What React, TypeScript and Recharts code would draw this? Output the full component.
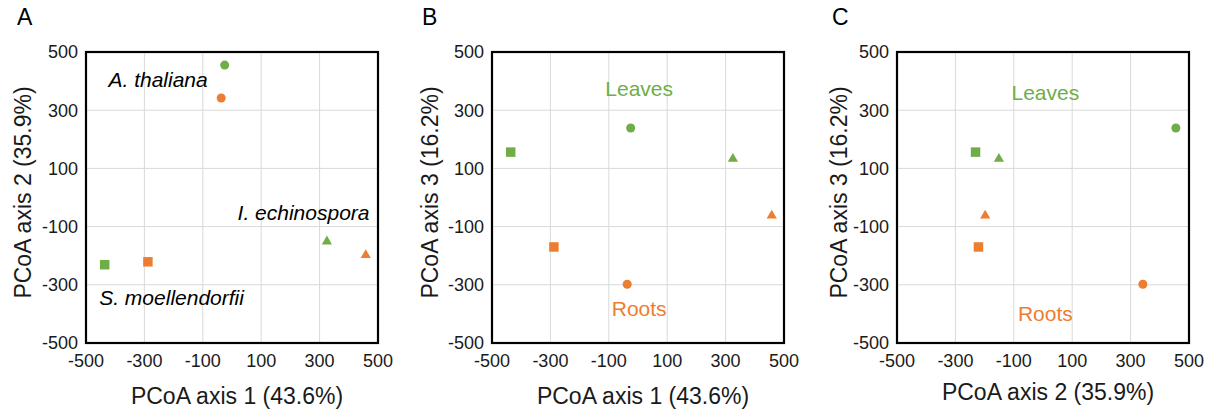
import React from "react";
import {
  ScatterChart,
  Scatter,
  XAxis,
  YAxis,
  CartesianGrid,
  ReferenceDot,
  Label,
  Symbols,
} from "recharts";

// ── Data ──────────────────────────────────────────────────────────────────────

const species = ["A. thaliana", "S. moellendorfii", "I. echinospora"];
const speciesShapes = ["circle", "square", "triangle"] as const;

// PCoA scores, one value per species (same order as `species`)
const leavesAxis1 = [-25, -436, 325];
const rootsAxis1 = [-37, -288, 458];
const leavesAxis2 = [455, -231, -151];
const rootsAxis2 = [342, -221, -198];
const leavesAxis3 = [239, 156, 133];
const rootsAxis3 = [-298, -170, -62];

const ticks = [-500, -300, -100, 100, 300, 500];

const axisTitles = ["PCoA axis 1 (43.6%)", "PCoA axis 2 (35.9%)", "PCoA axis 3 (16.2%)"];

// text annotations (data coordinates)
const speciesNotes = [
  { text: "A. thaliana", x: -253, y: 407 },
  { text: "S. moellendorfii", x: -207, y: -342 },
  { text: "I. echinospora", x: 245, y: -53 },
];
const tissueNotesB = [
  { text: "Leaves", x: 4, y: 376 },
  { text: "Roots", x: 4, y: -383 },
];
const tissueNotesC = [
  { text: "Leaves", x: 8, y: 360 },
  { text: "Roots", x: 8, y: -400 },
];

// ── Styling ───────────────────────────────────────────────────────────────────

const GREEN = "#70AD47";
const ORANGE = "#ED7D31";
const FONT = '"Liberation Sans", Arial, sans-serif';

const PANEL_W = 405;
const PANEL_H = 412;
const PLOT_W = 292;
const PLOT_TOP = 52;
const PLOT_BOTTOM = 343;
const Y_AXIS_W = 60;
const X_AXIS_H = 30;

const symbolSize: Record<string, number> = { circle: 64, square: 90, triangle: 45 };

function markerShape(type: string, color: string) {
  return (props: any) => (
    <Symbols cx={props.cx} cy={props.cy} type={type as any} size={symbolSize[type]} fill={color} />
  );
}

function noteShape(text: string, color: string, italic: boolean) {
  return (props: any) => (
    <text
      x={props.cx}
      y={props.cy}
      textAnchor="middle"
      dominantBaseline="central"
      fontSize={21}
      fontStyle={italic ? "italic" : "normal"}
      fill={color}
      fontFamily={FONT}
    >
      {text}
    </text>
  );
}

// black plot frame, anchored on the domain's top-left corner
function frameShape(props: any) {
  return (
    <rect
      x={props.cx}
      y={props.cy}
      width={PLOT_W}
      height={PLOT_BOTTOM - PLOT_TOP}
      fill="none"
      stroke="#000"
      strokeWidth={2.2}
    />
  );
}

interface PanelProps {
  letter: string;
  left: number;
  plotLeft: number;
  xTitle: string;
  yTitle: string;
  xTitleBaseline: number;
  yTitleX: number;
  leavesX: number[];
  leavesY: number[];
  rootsX: number[];
  rootsY: number[];
  notes: { text: string; x: number; y: number; color: string; italic: boolean }[];
}

function Panel(p: PanelProps) {
  const marginLeft = p.plotLeft - Y_AXIS_W;
  const marginRight = PANEL_W - p.plotLeft - PLOT_W;
  const marginBottom = PANEL_H - PLOT_BOTTOM - X_AXIS_H;
  const tick = { fill: "#1a1a1a", fontSize: 18 };

  return (
    <div style={{ position: "absolute", left: p.left, top: 0, width: PANEL_W, height: PANEL_H }}>
      <ScatterChart
        width={PANEL_W}
        height={PANEL_H}
        margin={{ top: PLOT_TOP, right: marginRight, bottom: marginBottom, left: marginLeft }}
      >
        <CartesianGrid stroke="#d9d9d9" strokeWidth={1} />
        <XAxis
          type="number"
          dataKey="x"
          domain={[-500, 500]}
          ticks={ticks}
          interval={0}
          axisLine={false}
          tickLine={false}
          tickMargin={5}
          height={X_AXIS_H}
          tick={tick}
        >
          <Label
            content={({ viewBox }: any) => (
              <text
                x={viewBox.x + viewBox.width / 2 + 5}
                y={p.xTitleBaseline}
                textAnchor="middle"
                fontSize={23}
                fill="#1a1a1a"
                fontFamily={FONT}
              >
                {p.xTitle}
              </text>
            )}
          />
        </XAxis>
        <YAxis
          type="number"
          dataKey="y"
          domain={[-500, 500]}
          ticks={ticks}
          interval={0}
          axisLine={false}
          tickLine={false}
          tickMargin={2}
          width={Y_AXIS_W}
          tick={tick}
        >
          <Label
            content={({ viewBox }: any) => {
              const cy = viewBox.y + viewBox.height / 2 - 5;
              return (
                <text
                  x={p.yTitleX}
                  y={cy}
                  transform={`rotate(-90 ${p.yTitleX} ${cy})`}
                  textAnchor="middle"
                  fontSize={23}
                  fill="#1a1a1a"
                  fontFamily={FONT}
                >
                  {p.yTitle}
                </text>
              );
            }}
          />
        </YAxis>
        <ReferenceDot x={-500} y={500} r={0} ifOverflow="visible" shape={frameShape} />
        {p.notes.map((n) => (
          <ReferenceDot
            key={n.text}
            x={n.x}
            y={n.y}
            r={0}
            shape={noteShape(n.text, n.color, n.italic)}
          />
        ))}
        {speciesShapes.map((s, i) => (
          <Scatter
            key={"leaves-" + s}
            name={species[i] + " leaves"}
            data={[{ x: p.leavesX[i], y: p.leavesY[i] }]}
            shape={markerShape(s, GREEN)}
            isAnimationActive={false}
          />
        ))}
        {speciesShapes.map((s, i) => (
          <Scatter
            key={"roots-" + s}
            name={species[i] + " roots"}
            data={[{ x: p.rootsX[i], y: p.rootsY[i] }]}
            shape={markerShape(s, ORANGE)}
            isAnimationActive={false}
          />
        ))}
      </ScatterChart>
      <div
        style={{
          position: "absolute",
          left: p.letter === "C" ? 22 : 17,
          top: 4,
          fontSize: 23,
          color: "#000",
          lineHeight: "26px",
        }}
      >
        {p.letter}
      </div>
    </div>
  );
}

export default function App() {
  const blackNotes = speciesNotes.map((n) => ({ ...n, color: "#000", italic: true }));
  const colour = (n: { text: string; x: number; y: number }) => ({
    ...n,
    color: n.text === "Leaves" ? GREEN : ORANGE,
    italic: false,
  });

  return (
    <div
      style={{
        position: "absolute",
        left: 0,
        top: 0,
        width: 1215,
        height: 412,
        background: "#fff",
        fontFamily: FONT,
      }}
    >
      <Panel
        letter="A"
        left={0}
        plotLeft={86}
        xTitle={axisTitles[0]}
        yTitle={axisTitles[1]}
        xTitleBaseline={404}
        yTitleX={31}
        leavesX={leavesAxis1}
        leavesY={leavesAxis2}
        rootsX={rootsAxis1}
        rootsY={rootsAxis2}
        notes={blackNotes}
      />
      <Panel
        letter="B"
        left={405}
        plotLeft={87}
        xTitle={axisTitles[0]}
        yTitle={axisTitles[2]}
        xTitleBaseline={404}
        yTitleX={33}
        leavesX={leavesAxis1}
        leavesY={leavesAxis3}
        rootsX={rootsAxis1}
        rootsY={rootsAxis3}
        notes={tissueNotesB.map(colour)}
      />
      <Panel
        letter="C"
        left={810}
        plotLeft={87}
        xTitle={axisTitles[1]}
        yTitle={axisTitles[2]}
        xTitleBaseline={400}
        yTitleX={37}
        leavesX={leavesAxis2}
        leavesY={leavesAxis3}
        rootsX={rootsAxis2}
        rootsY={rootsAxis3}
        notes={tissueNotesC.map(colour)}
      />
    </div>
  );
}
